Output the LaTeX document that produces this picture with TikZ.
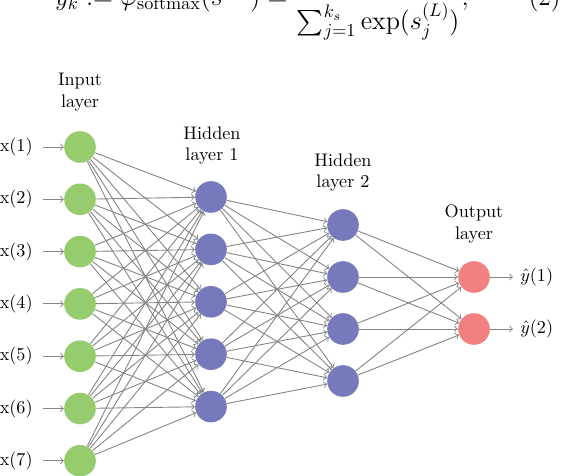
\documentclass[tikz,border=0pt]{standalone}
\usepackage{amsmath}
\usepackage{amssymb}
\usetikzlibrary{arrows,calc}

\definecolor{inputgreen}{RGB}{151,204,110}
\definecolor{hiddenblue}{RGB}{118,122,188}
\definecolor{outputred}{RGB}{242,128,128}

\tikzset{
  neuron/.style={circle,inner sep=0pt,minimum size=17.4pt},
  conn/.style={->,draw=black!48,line width=0.5pt},
  lbl/.style={inner sep=0pt},
  layertitle/.style={align=center,inner sep=0pt}
}

\begin{document}
\begin{tikzpicture}[x=0.55pt,y=-0.55pt]
\useasboundingbox (0,0) rectangle (566,476);
\clip (0,0) rectangle (566,476);
\node[anchor=base west,inner sep=0pt,font=\fontsize{14}{17}\selectfont] (eq) at (55,5.5)
  {$\displaystyle y_k := \varphi_{\mathrm{softmax}}(s^{(L)}) = \frac{\exp(s_k^{(L)})}{\sum_{j=1}^{k_s}\exp(s_j^{(L)})},$};
\node[anchor=base east,inner sep=0pt,font=\fontsize{14}{17}\selectfont] (eqno) at (561,5.5) {(2)};
\foreach \i in {1,...,7} {
  \pgfmathsetmacro{\yy}{147+(\i-1)*52.3}
  \node[neuron,fill=inputgreen] (in\i) at (80,\yy) {};
  \node[lbl,anchor=east] (x\i) at (33,\yy) {x(\i)};
  \draw[conn,shorten <=5.5pt] (x\i) -- (in\i);
}
\foreach \i in {1,...,5} {
  \pgfmathsetmacro{\yy}{197+(\i-1)*52.4}
  \node[neuron,fill=hiddenblue] (ha\i) at (211,\yy) {};
}
\foreach \i in {1,...,4} {
  \pgfmathsetmacro{\yy}{225+(\i-1)*52}
  \node[neuron,fill=hiddenblue] (hb\i) at (343,\yy) {};
}
\foreach \i in {1,2} {
  \pgfmathsetmacro{\yy}{277+(\i-1)*52}
  \node[neuron,fill=outputred] (out\i) at (474,\yy) {};
  \node[lbl,anchor=west] (yhat\i) at (520,\yy) {$\hat{y}(\i)$};
  \draw[conn,shorten >=3.9pt] (out\i) -- (yhat\i);
}
\foreach \a in {1,...,7} \foreach \b in {1,...,5} \draw[conn] (in\a) -- (ha\b);
\foreach \a in {1,...,5} \foreach \b in {1,...,4} \draw[conn] (ha\a) -- (hb\b);
\foreach \a in {1,...,4} \foreach \b in {1,2} \draw[conn] (hb\a) -- (out\b);
\node[layertitle] (tin) at (80,92) {Input\\layer};
\node[layertitle] (tha) at (212,145.5) {Hidden\\layer 1};
\node[layertitle] (thb) at (343,172.5) {Hidden\\layer 2};
\node[layertitle] (tout) at (474,224) {Output\\layer};
\end{tikzpicture}
\end{document}
